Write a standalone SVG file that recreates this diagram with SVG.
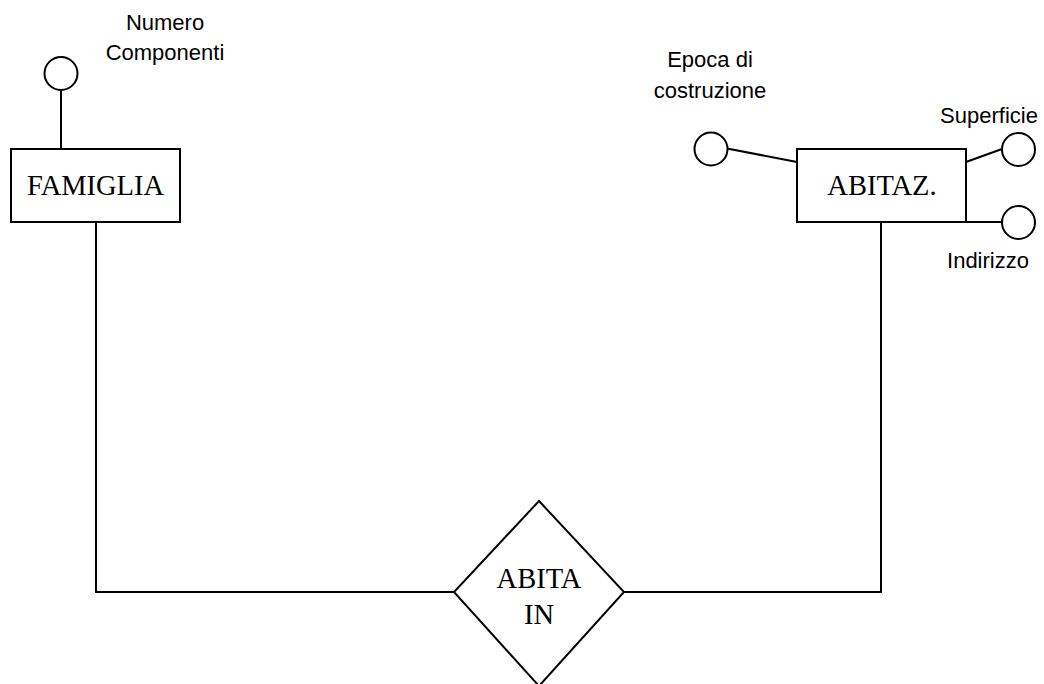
<svg xmlns="http://www.w3.org/2000/svg" width="1044" height="684" viewBox="0 0 1044 684">
<style>
.s{fill:none;stroke:#000;stroke-width:2}
.b{fill:#fff;stroke:#000;stroke-width:2}
.t{font-family:"Liberation Serif","Times New Roman",serif;font-size:28.5px;fill:#000;text-anchor:middle}
.a{font-family:"Liberation Sans",Arial,sans-serif;font-size:22px;fill:#000;text-anchor:middle}
</style>
<rect width="1044" height="684" fill="#fff"/>
<g id="connectors">
<line class="s" x1="61" y1="90" x2="61" y2="149"/>
<polyline class="s" points="96,222 96,592 454,592"/>
<polyline class="s" points="881,222 881,592 624,592"/>
<line class="s" x1="727" y1="148.5" x2="797" y2="162"/>
<line class="s" x1="966" y1="162" x2="1002" y2="149"/>
<line class="s" x1="966" y1="222" x2="1002" y2="222"/>
</g>
<g id="attr-numero">
<circle class="b" cx="61" cy="73.5" r="16.5"/>
<text class="a" x="165" y="29.5">Numero</text>
<text class="a" x="165" y="60">Componenti</text>
</g>
<g id="famiglia">
<rect class="b" x="11" y="149" width="169" height="73"/>
<text class="t" x="95.5" y="195">FAMIGLIA</text>
</g>
<g id="attr-epoca">
<circle class="b" cx="711" cy="149" r="16.5"/>
<text class="a" x="710" y="67">Epoca di</text>
<text class="a" x="710" y="98">costruzione</text>
</g>
<g id="abitaz">
<rect class="b" x="797" y="149" width="169" height="73"/>
<text class="t" x="882" y="195">ABITAZ.</text>
</g>
<g id="attr-superficie">
<circle class="b" cx="1018.5" cy="149.5" r="16.5"/>
<text class="a" x="989" y="122.5">Superficie</text>
</g>
<g id="attr-indirizzo">
<circle class="b" cx="1018.5" cy="222.5" r="16.5"/>
<text class="a" x="988" y="268">Indirizzo</text>
</g>
<g id="abita-in">
<polygon class="b" points="539,501 624,592 539,686 454,592"/>
<text class="t" x="539" y="587.5">ABITA</text>
<text class="t" x="539" y="624">IN</text>
</g>
</svg>
